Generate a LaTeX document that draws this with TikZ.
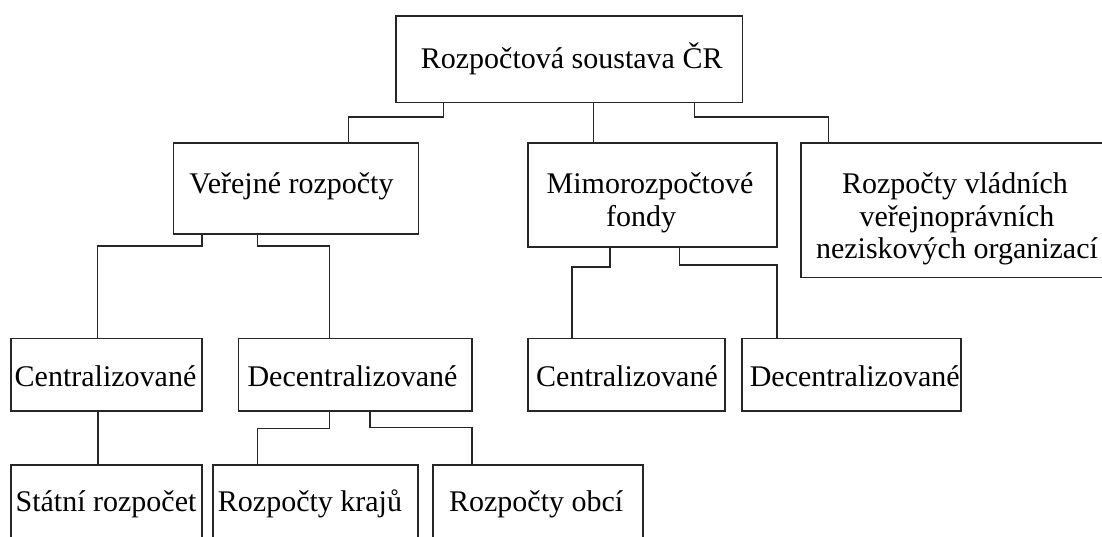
\documentclass[tikz,border=0pt]{standalone}
\usepackage{fontspec}
\setmainfont{Liberation Serif}
\begin{document}
\begin{tikzpicture}[x=1pt,y=-1pt,
  box/.style={draw=black!85,line width=1.6pt,rectangle,inner sep=0pt,outer sep=0pt,anchor=north west},
  lbl/.style={anchor=base,inner sep=0pt,font=\fontsize{30}{33}\selectfont,text=black},
  conn/.style={draw=black!85,line width=1.6pt}]
\path[use as bounding box,clip] (0,0) rectangle (1102,536);
\fill[white] (0,0) rectangle (1102,536);
% boxes
\node[box,minimum width=346.3pt,minimum height=86.6pt] (root) at (396,15.7) {};
\node[box,minimum width=245pt,minimum height=91.3pt] (ver) at (173.3,142.7) {};
\node[box,minimum width=249pt,minimum height=104pt] (mimo) at (527.7,142.7) {};
\node[box,minimum width=330pt,minimum height=134.6pt] (vlad) at (800.7,142.7) {};
\node[box,minimum width=190.7pt,minimum height=72.4pt] (cent1) at (11,338.3) {};
\node[box,minimum width=233.4pt,minimum height=72.4pt] (dec1) at (238.3,338.3) {};
\node[box,minimum width=197.3pt,minimum height=72.4pt] (cent2) at (527.7,338.3) {};
\node[box,minimum width=218.7pt,minimum height=72.4pt] (dec2) at (742,338.3) {};
\node[box,minimum width=190.7pt,minimum height=100pt] (stat) at (11,465) {};
\node[box,minimum width=205pt,minimum height=100pt] (kraj) at (212.7,465) {};
\node[box,minimum width=210pt,minimum height=100pt] (obce) at (432.7,465) {};
% texts
\node[lbl] (troot) at (571.7,68.3) {Rozpočtová soustava ČR};
\node[lbl] (tver) at (291.5,193.3) {Veřejné rozpočty};
\node[lbl] (tmimoA) at (650,193.3) {Mimorozpočtové};
\node[lbl] (tmimoB) at (641,226.7) {fondy};
\node[lbl] (tvladA) at (955,193.3) {Rozpočty vládních};
\node[lbl] (tvladB) at (957,226) {veřejnoprávních};
\node[lbl] (tvladC) at (957,258.3) {neziskových organizací};
\node[lbl] (tcent1) at (105.5,386.7) {Centralizované};
\node[lbl] (tdec1) at (352.5,386.7) {Decentralizované};
\node[lbl] (tcent2) at (627,386.7) {Centralizované};
\node[lbl] (tdec2) at (854.7,386.7) {Decentralizované};
\node[lbl] (tstat) at (106,511.7) {Státní rozpočet};
\node[lbl] (tkraj) at (310,511.7) {Rozpočty krajů};
\node[lbl] (tobce) at (536.2,511.7) {Rozpočty obcí};
% connectors
\draw[conn] ([xshift=47.3pt]root.south west) |- ([xshift=175pt,yshift=26pt]ver.north west) -- ([xshift=175pt]ver.north west);
\draw[conn] ([xshift=197.3pt]root.south west) -- ([xshift=65.6pt]mimo.north west);
\draw[conn] ([xshift=298.3pt]root.south west) |- ([xshift=27.8pt,yshift=26pt]vlad.north west) -- ([xshift=27.8pt]vlad.north west);
\draw[conn] ([xshift=28.4pt]ver.south west) |- ([xshift=86.5pt,yshift=92.3pt]cent1.north west) -- ([xshift=86.5pt]cent1.north west);
\draw[conn] ([xshift=84pt]ver.south west) |- ([xshift=91pt,yshift=92.3pt]dec1.north west) -- ([xshift=91pt]dec1.north west);
\draw[conn] ([xshift=82.3pt]mimo.south west) |- ([xshift=44pt,yshift=71.6pt]cent2.north west) -- ([xshift=44pt]cent2.north west);
\draw[conn] ([xshift=151.6pt]mimo.south west) |- ([xshift=34.7pt,yshift=73.3pt]dec2.north west) -- ([xshift=34.7pt]dec2.north west);
\draw[conn] ([xshift=86.7pt]cent1.south west) -- ([xshift=86.7pt]stat.north west);
\draw[conn] ([xshift=91pt]dec1.south west) |- ([xshift=44.6pt,yshift=36.7pt]kraj.north west) -- ([xshift=44.6pt]kraj.north west);
\draw[conn] ([xshift=131.7pt]dec1.south west) |- ([xshift=39pt,yshift=37.7pt]obce.north west) -- ([xshift=39pt]obce.north west);
\end{tikzpicture}
\end{document}
